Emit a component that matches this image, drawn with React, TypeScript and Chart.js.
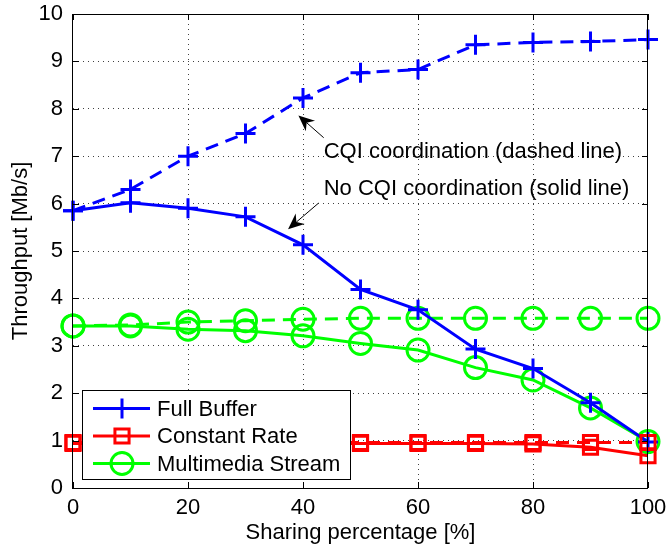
import React, { useEffect, useRef } from 'react';
import { Chart, registerables } from 'chart.js';

Chart.register(...registerables);

// ---------- data ----------
const sharingPct = [0, 10, 20, 30, 40, 50, 60, 70, 80, 90, 100];
const fullBufferCoord = [5.85, 6.3, 7.0, 7.48, 8.23, 8.76, 8.83, 9.35, 9.4, 9.42, 9.46];
const fullBufferNoCoord = [5.85, 6.02, 5.9, 5.72, 5.13, 4.19, 3.76, 2.93, 2.52, 1.8, 0.97];
const constantRateCoord = [0.96, 0.96, 0.96, 0.96, 0.96, 0.96, 0.96, 0.96, 0.96, 0.96, 0.96];
const constantRateNoCoord = [0.94, 0.94, 0.94, 0.94, 0.94, 0.94, 0.94, 0.94, 0.93, 0.86, 0.68];
const multimediaCoord = [3.42, 3.44, 3.5, 3.53, 3.56, 3.58, 3.58, 3.58, 3.58, 3.58, 3.58];
const multimediaNoCoord = [3.42, 3.42, 3.35, 3.32, 3.21, 3.05, 2.91, 2.54, 2.28, 1.69, 0.98];
const xTickValues = [0, 20, 40, 60, 80, 100];
const yTickValues = [0, 1, 2, 3, 4, 5, 6, 7, 8, 9, 10];
const seriesNames = ['Full Buffer', 'Constant Rate', 'Multimedia Stream'];
const xTitle = 'Sharing percentage [%]';
const yTitle = 'Throughput [Mb/s]';
const noteCoord = 'CQI coordination (dashed line)';
const noteNoCoord = 'No CQI coordination (solid line)';

const BLUE = '#0000ff';
const RED = '#ff0000';
const GREEN = '#00ff00';
const FONT = '"Liberation Sans", Arial, Helvetica, sans-serif';

const styles = [
  { color: BLUE, point: 'cross', radius: 10 },
  { color: RED, point: 'rect', radius: 10 },
  { color: GREEN, point: 'circle', radius: 11 },
];

function makeSet(values: number[], s: any, dashed: boolean, label: string) {
  return {
    label,
    data: sharingPct.map((x, i) => ({ x, y: values[i] })),
    borderColor: s.color,
    backgroundColor: 'transparent',
    borderWidth: 3,
    borderDash: dashed ? [13, 8] : [],
    pointStyle: s.point,
    pointRadius: s.radius,
    pointHoverRadius: s.radius,
    pointBorderWidth: 3,
    pointBorderColor: s.color,
    pointBackgroundColor: 'transparent',
    tension: 0,
    fill: false,
    clip: false,
  };
}

function drawArrow(ctx: CanvasRenderingContext2D, x1: number, y1: number, x2: number, y2: number) {
  const ang = Math.atan2(y2 - y1, x2 - x1);
  const len = 16;
  const half = 7;
  const notch = 11;
  ctx.beginPath();
  ctx.moveTo(x1, y1);
  ctx.lineTo(x2 - Math.cos(ang) * notch, y2 - Math.sin(ang) * notch);
  ctx.stroke();
  const bx = x2 - Math.cos(ang) * len;
  const by = y2 - Math.sin(ang) * len;
  const nx = -Math.sin(ang);
  const ny = Math.cos(ang);
  ctx.beginPath();
  ctx.moveTo(x2, y2);
  ctx.lineTo(bx + nx * half, by + ny * half);
  ctx.lineTo(x2 - Math.cos(ang) * notch, y2 - Math.sin(ang) * notch);
  ctx.lineTo(bx - nx * half, by - ny * half);
  ctx.closePath();
  ctx.fill();
}

const decorPlugin = {
  id: 'decor',
  afterDraw(chart: any) {
    const { ctx, chartArea: a, scales } = chart;
    const xs = scales.x;
    const ys = scales.y;
    ctx.save();
    // frame
    ctx.strokeStyle = '#000';
    ctx.lineWidth = 1;
    ctx.setLineDash([]);
    ctx.strokeRect(Math.round(a.left) - 0.5, Math.round(a.top) + 0.5, Math.round(a.right - a.left), Math.round(a.bottom - a.top));
    // inward ticks
    ctx.beginPath();
    xTickValues.forEach((v) => {
      const px = Math.round(xs.getPixelForValue(v)) + 0.5;
      ctx.moveTo(px, a.bottom);
      ctx.lineTo(px, a.bottom - 6);
      ctx.moveTo(px, a.top);
      ctx.lineTo(px, a.top + 6);
    });
    yTickValues.forEach((v) => {
      const py = Math.round(ys.getPixelForValue(v)) + 0.5;
      ctx.moveTo(a.left, py);
      ctx.lineTo(a.left + 6, py);
      ctx.moveTo(a.right, py);
      ctx.lineTo(a.right - 6, py);
    });
    ctx.stroke();

    // annotations
    ctx.fillStyle = '#000';
    ctx.font = '22px ' + FONT;
    ctx.textAlign = 'left';
    ctx.textBaseline = 'middle';
    ctx.fillText(noteCoord, xs.getPixelForValue(43.6), ys.getPixelForValue(7.1));
    ctx.fillText(noteNoCoord, xs.getPixelForValue(43.6), ys.getPixelForValue(6.3));
    ctx.lineWidth = 1;
    drawArrow(ctx, xs.getPixelForValue(43.6), ys.getPixelForValue(7.39), xs.getPixelForValue(39.2), ys.getPixelForValue(7.86));
    drawArrow(ctx, xs.getPixelForValue(42.7), ys.getPixelForValue(6.01), xs.getPixelForValue(37.4), ys.getPixelForValue(5.46));

    // legend
    const lx = a.left + 9;
    const lh = 27.5;
    ctx.font = '22px ' + FONT;
    let maxW = 0;
    seriesNames.forEach((n) => (maxW = Math.max(maxW, ctx.measureText(n).width)));
    const lw = 75 + maxW + 10;
    const lhTotal = 89;
    const ly = a.bottom - 9 - lhTotal;
    ctx.fillStyle = '#fff';
    ctx.fillRect(Math.round(lx) + 0.5, Math.round(ly) + 0.5, Math.round(lw), lhTotal);
    ctx.strokeStyle = '#000';
    ctx.lineWidth = 1;
    ctx.strokeRect(Math.round(lx) + 0.5, Math.round(ly) + 0.5, Math.round(lw), lhTotal);
    seriesNames.forEach((n, i) => {
      const cy = ly + 18.5 + i * lh;
      const s = styles[i];
      ctx.strokeStyle = s.color;
      ctx.lineWidth = 3;
      ctx.beginPath();
      ctx.moveTo(lx + 11, cy);
      ctx.lineTo(lx + 68, cy);
      ctx.stroke();
      const cx = lx + 40;
      ctx.beginPath();
      if (s.point === 'cross') {
        ctx.moveTo(cx - s.radius, cy);
        ctx.lineTo(cx + s.radius, cy);
        ctx.moveTo(cx, cy - s.radius);
        ctx.lineTo(cx, cy + s.radius);
      } else if (s.point === 'rect') {
        const h = s.radius * Math.SQRT1_2;
        ctx.rect(cx - h, cy - h, 2 * h, 2 * h);
      } else {
        ctx.arc(cx, cy, s.radius, 0, Math.PI * 2);
      }
      ctx.stroke();
      ctx.fillStyle = '#000';
      ctx.textBaseline = 'middle';
      ctx.fillText(n, lx + 75, cy + 1);
    });
    ctx.restore();
  },
};

export default function App() {
  const ref = useRef<HTMLCanvasElement | null>(null);
  useEffect(() => {
    if (!ref.current) return;
    Chart.defaults.font.family = FONT;
    Chart.defaults.color = '#000';
    const gridColor = (c: any) => {
      const v = c.tick ? c.tick.value : null;
      return v === c.scale.min || v === c.scale.max ? 'rgba(0,0,0,0)' : 'rgba(0,0,0,0.75)';
    };
    const chart = new Chart(ref.current, {
      type: 'line',
      data: {
        datasets: [
          makeSet(constantRateNoCoord, styles[1], false, seriesNames[1]),
          makeSet(constantRateCoord, styles[1], true, seriesNames[1]),
          makeSet(fullBufferNoCoord, styles[0], false, seriesNames[0]),
          makeSet(fullBufferCoord, styles[0], true, seriesNames[0]),
          makeSet(multimediaNoCoord, styles[2], false, seriesNames[2]),
          makeSet(multimediaCoord, styles[2], true, seriesNames[2]),
        ] as any,
      },
      options: {
        animation: false,
        responsive: true,
        maintainAspectRatio: false,
        events: [],
        layout: { padding: { top: 12, right: 18, left: 0, bottom: 0 } },
        plugins: { legend: { display: false }, tooltip: { enabled: false } },
        scales: {
          x: {
            type: 'linear',
            min: 0,
            max: 100,
            afterBuildTicks: (s: any) => {
              s.ticks = xTickValues.map((v) => ({ value: v }));
            },
            afterFit: (s: any) => {
              s.height = 63;
              s.paddingLeft = 0;
              s.paddingRight = 0;
            },
            grid: { color: gridColor, lineWidth: 1, drawTicks: false },
            border: { display: false, dash: [1, 4] },
            ticks: { font: { size: 22 }, color: '#000', padding: 7, maxRotation: 0 },
            title: { display: true, text: xTitle, font: { size: 22 }, color: '#000', padding: { top: 0, bottom: 5 } },
          },
          y: {
            type: 'linear',
            min: 0,
            max: 10,
            afterBuildTicks: (s: any) => {
              s.ticks = yTickValues.map((v) => ({ value: v }));
            },
            afterFit: (s: any) => {
              s.width = 73;
              s.paddingTop = 0;
              s.paddingBottom = 0;
            },
            grid: { color: gridColor, lineWidth: 1, drawTicks: false },
            border: { display: false, dash: [1, 4] },
            ticks: { font: { size: 22 }, color: '#000', padding: 10 },
            title: { display: true, text: yTitle, font: { size: 22 }, color: '#000', padding: { top: 8, bottom: 0 } },
          },
        },
      },
      plugins: [decorPlugin],
    });
    return () => chart.destroy();
  }, []);
  return (
    <div style={{ position: 'fixed', left: 0, top: 0, width: 666, height: 551, background: '#fff' }}>
      <canvas ref={ref} />
    </div>
  );
}
